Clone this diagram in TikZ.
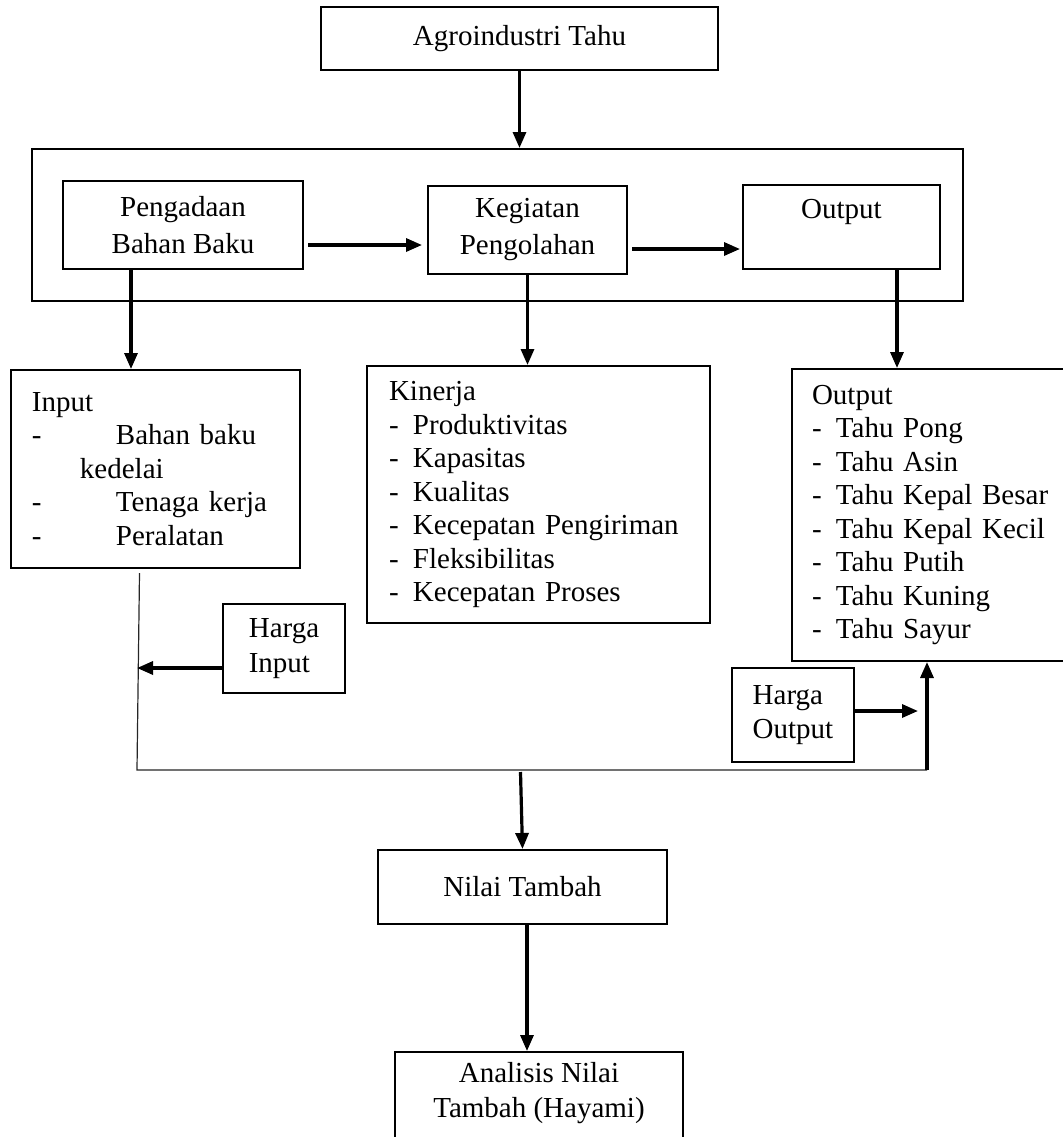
\documentclass[tikz,border=0pt]{standalone}
\usepackage{fontspec}
\setmainfont{Liberation Serif}
\usetikzlibrary{positioning,calc,arrows.meta}
\tikzset{
  box/.style={draw=black,line width=1pt,inner sep=0pt,align=center},
  listbox/.style={draw=black,line width=1pt,inner ysep=0pt,align=left},
  arr/.style={draw=black,line width=1.6pt,-{Triangle[length=8pt,width=6.5pt]}},
  wire/.style={draw=black!85,line width=0.6pt},
}
\newcommand{\itm}{\makebox[12pt][l]{-}}

\begin{document}
\begin{tikzpicture}[x=0.5pt,y=-0.5pt,font=\fontsize{14.5pt}{16.75pt}\selectfont]
\useasboundingbox (0,0) rectangle (1062,1137);
% upper part
\node[box,minimum width=198.5pt,minimum height=31.5pt] (agro) at (519.5,38.5) {Agroindustri Tahu};
\node[box,minimum width=465.5pt,minimum height=76pt] (frame) at (497.5,225) {};
\node[box,minimum width=120pt,minimum height=44pt] (bahan) at (183,225) {Pengadaan\\[1.75pt]Bahan Baku};
\node[box,minimum width=99.5pt,minimum height=44pt] (olah) at (527.5,230) {Kegiatan\\[1.75pt]Pengolahan};
\node[box,minimum width=98.5pt,minimum height=42pt] (outtop) at (841.5,227) {Output\\[-3.75pt]\strut};
% lists
\node[listbox,inner xsep=10.5pt,text width=123.5pt,minimum height=99pt] (input) at (155.5,469)
  {Input\\
   \makebox[42pt][l]{-}Bahan baku\\
   \hspace*{24pt}kedelai\\
   \makebox[42pt][l]{-}Tenaga kerja\\
   \makebox[42pt][l]{-}Peralatan};
\node[listbox,inner xsep=11pt,text width=149.5pt,minimum height=128.5pt] (kin) at (538.5,494.5)
  {Kinerja\\
   \itm Produktivitas\\
   \itm Kapasitas\\
   \itm Kualitas\\
   \itm Kecepatan Pengiriman\\
   \itm Fleksibilitas\\
   \itm Kecepatan Proses};
\node[listbox,inner xsep=10pt,text width=121.5pt,minimum height=146pt] (outbox) at (933.5,515)
  {Output\\
   \itm Tahu Pong\\
   \itm Tahu Asin\\
   \itm Tahu Kepal Besar\\
   \itm Tahu Kepal Kecil\\
   \itm Tahu Putih\\
   \itm Tahu Kuning\\
   \itm Tahu Sayur};
% prices
\node[box,align=left,minimum width=61pt,minimum height=44.5pt] (hin) at (284,648.5) {Harga\\[0.75pt]Input};
\node[box,align=left,minimum width=61pt,minimum height=47pt] (hout) at (793,715) {Harga\\Output};
% lower part
\node[box,minimum width=144.5pt,minimum height=37pt] (nilai) at (522.5,887) {Nilai Tambah};
\node[box,anchor=north,minimum width=144pt,inner ysep=5pt,text depth=60pt] (ana) at (539,1051)
  {Analisis Nilai\\[0.75pt]Tambah (Hayami)};

\coordinate (bl) at (137,770);
\coordinate (br) at (927,770);
\coordinate (b1) at ($(bahan.south)+(-52,0)$);
\coordinate (o1) at ($(outtop.south)+(55.5,0)$);
\coordinate (h1) at ($(hin.west)+(0,19.5)$);
\coordinate (h2) at ($(hout.east)+(0,-4)$);
\coordinate (n1) at ($(nilai.south)+(4.5,0)$);

\draw[arr] (agro.south) -- (agro.south |- frame.north);
\draw[arr] ($(bahan.east)+(4,20)$) -- ($(bahan.east -| olah.west)+(-5,20)$);
\draw[arr] ($(olah.east)+(4,19)$) -- ($(olah.east -| outtop.west)+(-2,19)$);
\draw[arr] (b1) -- (b1 |- input.north);
\draw[arr] (olah.south) -- (olah.south |- kin.north);
\draw[arr] (o1) -- (o1 |- outbox.north);
\draw[wire] ($(input.south)+(-16,4)$) -- (bl) -- (br);
\draw[arr] (br) -- (br |- outbox.south);
\draw[arr] (h1) -- (h1 -| bl);
\draw[arr] (h2) -- ($(h2 -| br)+(-9,0)$);
\draw[arr] ($(nilai.north |- bl)+(-2,2)$) -- (nilai.north);
\draw[arr] (n1) -- (n1 |- ana.north);
\end{tikzpicture}
\end{document}
